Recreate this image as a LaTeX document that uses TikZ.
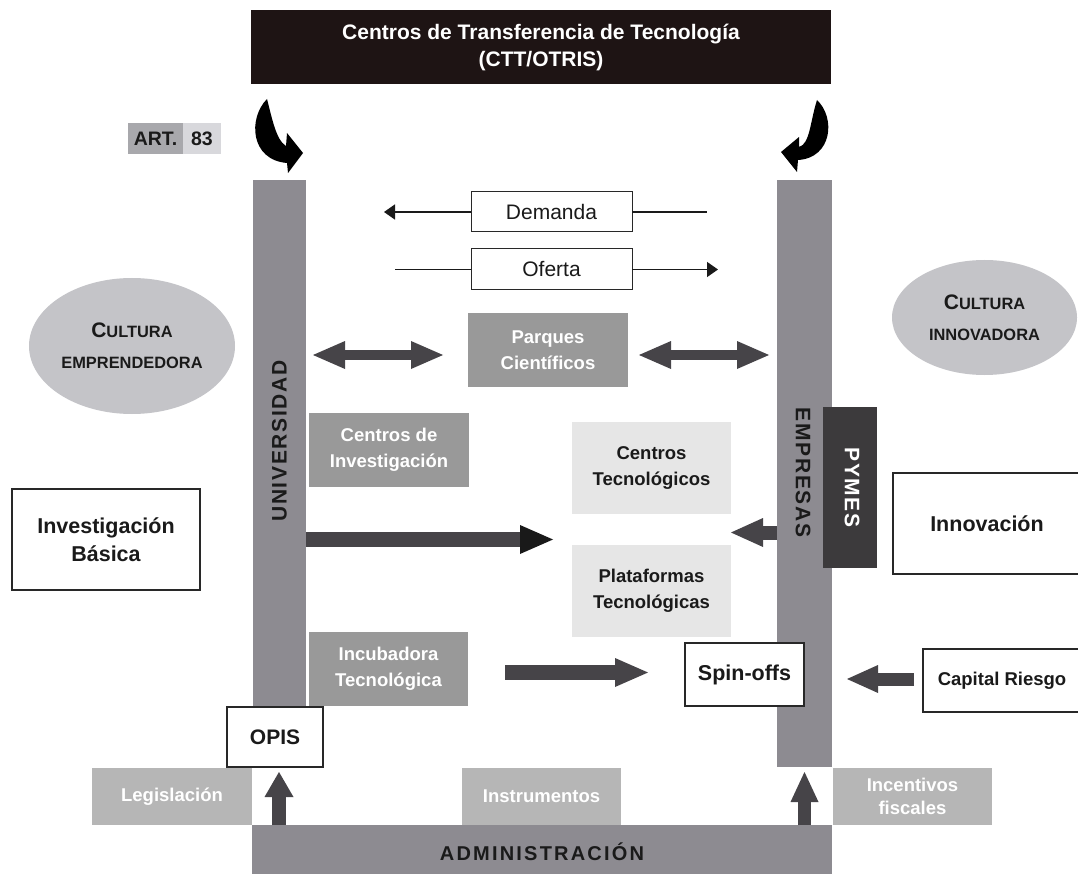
\documentclass[tikz,border=0pt]{standalone}
\usepackage{fontspec}
\setmainfont{Liberation Sans}
\newfontfamily\spacedfont[LetterSpace=8]{Liberation Sans}
\newfontfamily\admfont[LetterSpace=11]{Liberation Sans}
\usetikzlibrary{arrows.meta,shapes.geometric,calc}
\definecolor{barc}{RGB}{141,139,145}
\definecolor{midc}{RGB}{153,153,153}
\definecolor{lightc}{RGB}{182,182,182}
\definecolor{palec}{RGB}{230,230,230}
\definecolor{ellc}{RGB}{196,196,200}
\definecolor{arrc}{RGB}{70,68,72}
\definecolor{pymc}{RGB}{60,58,60}
\definecolor{titc}{RGB}{30,20,20}
\definecolor{artc}{RGB}{168,168,172}
\definecolor{arttc}{RGB}{216,216,220}
\definecolor{txtc}{RGB}{26,26,26}
\definecolor{edgec}{RGB}{40,40,40}
\newcommand{\fsz}[2]{\fontsize{#1}{#2}\selectfont}
\begin{document}
\begin{tikzpicture}[x=1pt,y=-1pt,
  blk/.style={rectangle, inner sep=0pt, outer sep=0pt, draw=none, align=center},
  sz/.style 2 args={minimum width=#1, minimum height=#2},
  bar/.style={blk, fill=barc},
  gbox/.style={blk, fill=midc, text=white, font=\bfseries\fsz{18.5}{26.5}},
  lbox/.style={blk, fill=lightc, text=white, font=\bfseries\fsz{18.5}{23}},
  pbox/.style={blk, fill=palec, text=txtc, font=\bfseries\fsz{18.5}{26.5}},
  wbox/.style={blk, fill=white, draw=edgec, line width=1.2pt, text=txtc, font=\bfseries\fsz{21.5}{28}},
  flow/.style={draw=txtc, line width=1.5pt},
  fat/.style={draw=arrc, line width=#1},
  cult/.style={ellipse, fill=ellc, inner sep=0pt, align=center, text=txtc, font=\bfseries\fsz{16.4}{31}},
  vlbl/.style={text=txtc, font=\spacedfont\bfseries\fsz{21}{21}}
]
\path[use as bounding box] (0,0) rectangle (1078,874);
\fill[white] (0,0) rectangle (1078,874);

% bars
\node[bar, sz={53pt}{527pt}] (univ) at (279.5,443.5) {};
\node[bar, sz={55pt}{587pt}] (emp) at (804.5,473.5) {};
\node[bar, sz={580pt}{51pt}] (adm) at (542,850.5) {};
\node[vlbl, rotate=90] (univlbl) at (279.5,441) {UNIVERSIDAD};
\node[vlbl, rotate=-90] (emplbl) at (803,472.5) {EMPRESAS};
\node[text=txtc, font=\admfont\bfseries\fsz{20}{20}] (admlbl) at (542,852) {ADMINISTRACIÓN};

% title
\node[blk, fill=titc, text=white, font=\bfseries\fsz{21}{27}, sz={580pt}{74pt}] (ctt) at (541,47) {Centros de Transferencia de Tecnología\\(CTT/OTRIS)};

% ART. 83
\node[blk, fill=artc, sz={55pt}{31pt}, text=txtc, font=\bfseries\fsz{19.5}{20}] (art) at (155.5,138.5) {ART.};
\node[blk, fill=arttc, sz={38pt}{31pt}, text=txtc, font=\bfseries\fsz{19.5}{20}, anchor=west] (artnum) at (art.east) {83};

% curved arrows
\fill[black] (267,99) .. controls (248,118) and (250,160) .. (287,163) -- (288,173) -- (303,153) -- (287,133) -- (286,146) .. controls (276,140) and (272,118) .. (267,99) -- cycle;
\fill[black] (817,100) .. controls (836,118) and (832,158) .. (798,160) -- (797,172) -- (781,152) -- (799,137) -- (799,147) .. controls (810,144) and (810,122) .. (817,100) -- cycle;

% demanda / oferta
\node[wbox, line width=1pt, font=\fsz{21}{21}, sz={161pt}{40pt}] (dem) at (551.5,212) {Demanda};
\node[wbox, line width=1pt, font=\fsz{21}{21}, sz={161pt}{41pt}] (ofe) at (551.5,269.5) {Oferta};
\coordinate (demL) at (384,212);
\coordinate (demR) at (707,212);
\coordinate (ofeL) at (395,269.5);
\coordinate (ofeR) at (718,269.5);
\draw[flow, -{Triangle[length=11pt,width=15pt]}] (dem.west) -- (demL);
\draw[flow] (dem.east) -- (demR);
\draw[flow] (ofeL) -- (ofe.west);
\draw[flow, -{Triangle[length=11pt,width=15pt]}] (ofe.east) -- (ofeR);

% cultura ellipses
\node[cult, minimum width=206pt, minimum height=136pt] (cemp) at (132,346) {{\fsz{21}{31}C}ULTURA\\EMPRENDEDORA};
\node[cult, minimum width=185pt, minimum height=115pt] (cinn) at (984.5,317.5) {{\fsz{21}{32}C}ULTURA\\INNOVADORA};

% inner boxes
\node[gbox, sz={160pt}{74pt}] (parq) at (548,350) {Parques\\Científicos};
\node[gbox, sz={160pt}{74pt}] (cinv) at (389,450) {Centros de\\Investigación};
\node[pbox, sz={159pt}{92pt}] (ctec) at (651.5,468) {Centros\\Tecnológicos};
\node[pbox, sz={159pt}{92pt}] (plat) at (651.5,591) {Plataformas\\Tecnológicas};
\node[blk, fill=pymc, sz={54pt}{161pt}] (pymes) at (850,487.5) {};
\node[vlbl, text=white, rotate=-90] (pymeslbl) at (852,487.5) {PYMES};
\node[wbox, sz={188pt}{101pt}] (invb) at (106,539.5) {Investigación\\Básica};
\node[wbox, sz={188pt}{101pt}] (innov) at (987,523.5) {Innovación};
\node[gbox, sz={159pt}{74pt}] (incub) at (388.5,669) {Incubadora\\Tecnológica};
\node[wbox, sz={119pt}{63pt}] (spin) at (744.5,674.5) {Spin-offs};
\node[wbox, sz={158pt}{63pt}, font=\bfseries\fsz{18.5}{23}] (cap) at (1002,680.5) {Capital Riesgo};
\node[wbox, sz={96pt}{60pt}, font=\bfseries\fsz{21}{21}] (opis) at (275,737) {OPIS};
\node[lbox, sz={160pt}{57pt}] (legis) at (172,796.5) {Legislación};
\node[lbox, sz={159pt}{57pt}] (instr) at (541.5,796.5) {Instrumentos};
\node[lbox, sz={159pt}{57pt}] (incent) at (912.5,796.5) {Incentivos\\fiscales};

% thick arrows
\coordinate (pq) at ($(parq.west)+(0,5)$);
\coordinate (pr) at ($(parq.east)+(0,5)$);
\draw[fat=10pt, {Triangle[length=32pt,width=28pt,line width=0pt]}-{Triangle[length=32pt,width=28pt,line width=0pt]}, shorten <=7pt, shorten >=25pt] (univ.east |- pq) -- (pq);
\draw[fat=10pt, {Triangle[length=32pt,width=28pt,line width=0pt]}-{Triangle[length=32pt,width=28pt,line width=0pt]}, shorten <=11pt, shorten >=8pt] (pr) -- (emp.west |- pr);
\coordinate (mid) at (572,539.5);
\draw[fat=15pt, -{Triangle[length=33pt,width=29pt,line width=0pt,color=black!90]}, shorten >=19pt] (univ.east |- mid) -- (mid);
\coordinate (ea) at (731,532.5);
\draw[fat=14pt, -{Triangle[length=32pt,width=29pt,line width=0pt]}] (emp.west |- ea) -- (ea);
\coordinate (iy) at (0,672.5);
\draw[fat=15pt, -{Triangle[length=33pt,width=29pt,line width=0pt]}, shorten <=37pt, shorten >=37pt] (incub.east |- iy) -- (spin.west |- iy);
\coordinate (cy) at (0,679);
\draw[fat=13pt, -{Triangle[length=31pt,width=28pt,line width=0pt]}, shorten <=9pt, shorten >=43pt] (cap.west |- cy) -- (spin.east |- cy);
\coordinate (ox) at (279,0);
\draw[fat=14pt, -{Triangle[length=25pt,width=29pt,line width=0pt]}, shorten >=5pt] (adm.north -| ox) -- (opis.south -| ox);
\draw[fat=13pt, -{Triangle[length=30pt,width=28pt,line width=0pt]}, shorten >=5pt] (adm.north -| emp.south) -- (emp.south);
\end{tikzpicture}
\end{document}
